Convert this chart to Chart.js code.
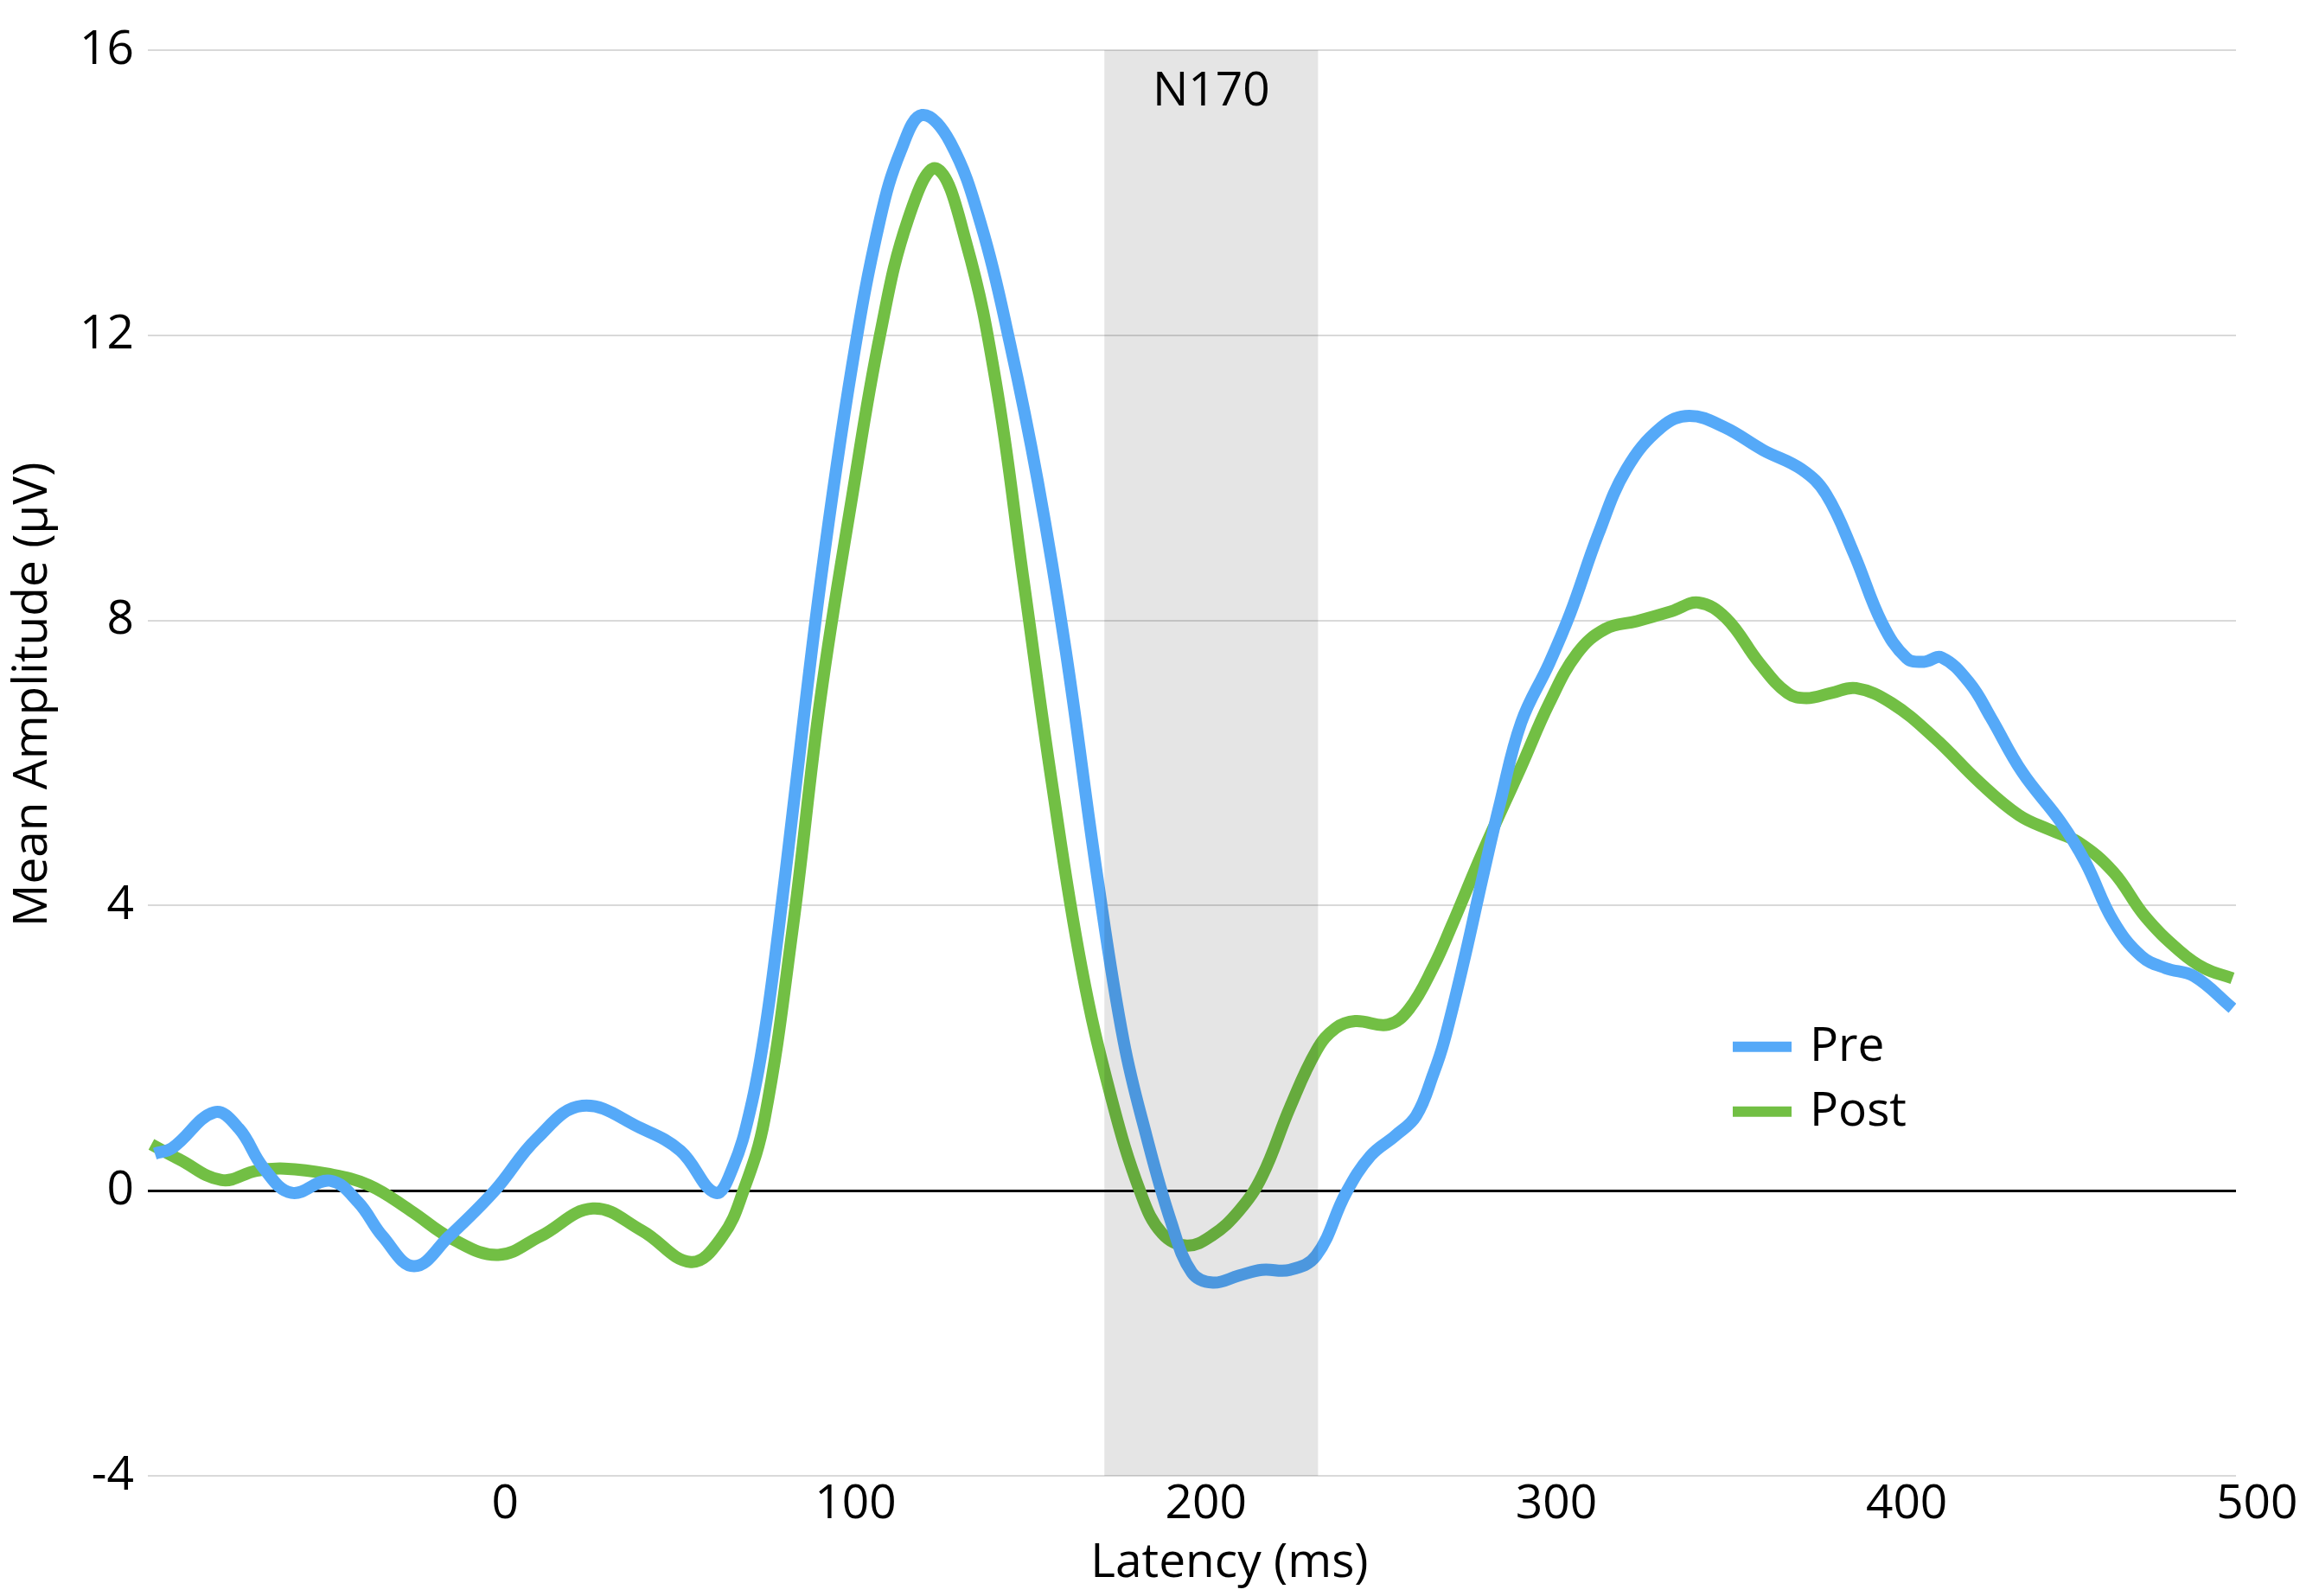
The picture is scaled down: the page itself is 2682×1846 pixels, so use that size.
<!DOCTYPE html>
<html>
<head>
<meta charset="utf-8">
<script src="https://cdn.jsdelivr.net/npm/chart.js@4/dist/chart.umd.min.js"></script>
<style>
  html, body { margin: 0; padding: 0; background: #ffffff; }
  #wrap { width: 2682px; height: 1846px; position: relative; }
</style>
</head>
<body>
<div id="wrap"><canvas id="c" width="2682" height="1846"></canvas></div>
<script>
// ---- Data ----
const seriesNames = ["Pre", "Post"];

const preLatency = [-100, -95, -83, -76, -69, -61, -50, -42, -35, -26, -16, -3, 9, 22, 39, 50, 60, 65, 70, 74, 78, 82, 90, 99, 107, 113, 119, 127, 136, 144, 152, 160, 169, 176.5, 183, 190, 196, 202, 209.5, 216, 224, 231.5, 240, 247, 254, 260, 265, 268, 274, 279, 284, 290, 298, 304, 312, 320, 330, 338, 348, 359, 370, 377, 385, 393, 400, 405, 410, 418, 424, 433, 444, 451, 459, 467, 474, 482, 493];
const preValues  = [0.52, 0.60, 1.10, 0.87, 0.32, -0.03, 0.14, -0.16, -0.64, -1.06, -0.64, 0.00, 0.73, 1.19, 0.87, 0.56, -0.03, 0.33, 1.15, 2.20, 3.65, 5.29, 8.54, 11.57, 13.63, 14.60, 15.09, 14.71, 13.52, 11.90, 9.95, 7.57, 4.40, 2.10, 0.77, -0.43, -1.15, -1.29, -1.19, -1.11, -1.11, -0.91, -0.03, 0.49, 0.77, 1.05, 1.65, 2.10, 3.30, 4.40, 5.45, 6.57, 7.40, 8.10, 9.21, 10.12, 10.71, 10.87, 10.71, 10.39, 10.12, 9.77, 8.93, 7.96, 7.47, 7.42, 7.48, 7.12, 6.64, 5.87, 5.17, 4.61, 3.78, 3.29, 3.12, 3.01, 2.56];

const postLatency = [-101, -93, -81, -71, -63, -51, -39, -27, -15, -2, 10, 25, 39, 53, 62, 68, 74, 82, 90, 99, 107, 115, 123, 131.5, 140, 148, 156, 164.5, 173, 181.5, 187.5, 194.5, 201.7, 209.5, 216, 224, 231.6, 237, 242.6, 252, 258, 265, 270, 279, 290, 298, 306, 314, 323, 333, 340.6, 348.5, 358, 366, 371.4, 378.4, 385.5, 395.7, 408, 421, 432, 441, 449, 459, 468, 478, 485, 493];
const postValues  = [0.65, 0.44, 0.15, 0.28, 0.31, 0.24, 0.08, -0.28, -0.68, -0.90, -0.64, -0.25, -0.56, -1.00, -0.64, 0.00, 1.00, 3.66, 6.91, 9.73, 12.01, 13.63, 14.34, 13.31, 11.35, 8.54, 5.73, 3.13, 1.30, -0.05, -0.60, -0.77, -0.63, -0.28, 0.20, 1.17, 1.97, 2.28, 2.38, 2.33, 2.55, 3.15, 3.70, 4.75, 5.95, 6.84, 7.54, 7.88, 7.99, 8.13, 8.25, 8.03, 7.40, 6.98, 6.91, 6.98, 7.05, 6.84, 6.35, 5.72, 5.27, 5.06, 4.89, 4.47, 3.85, 3.36, 3.12, 2.98];

const xTickValues = [0, 100, 200, 300, 400, 500];
const yTickValues = [-4, 0, 4, 8, 12, 16];
const xRange = [-102, 494];
const yRange = [-4, 16];

const bandRange = [171, 232];
const bandLabel = "N170";
const xTitle = "Latency (ms)";
const yTitle = "Mean Amplitude (\u03bcV)";

// ---- Styles ----
const colors = ["#55a9f8", "#72bf44"];
const FONT = "'Open Sans', Lato, sans-serif";
const FS = 55;

function toPoints(xs, ys) { return xs.map((x, i) => ({ x: x, y: ys[i] })); }

const bandPlugin = {
  id: 'band',
  afterDatasetsDraw(chart) {
    const { ctx, chartArea, scales } = chart;
    const x0 = scales.x.getPixelForValue(bandRange[0]);
    const x1 = scales.x.getPixelForValue(bandRange[1]);
    ctx.save();
    ctx.fillStyle = 'rgba(0,0,0,0.102)';
    ctx.fillRect(x0, chartArea.top, x1 - x0, chartArea.bottom - chartArea.top);
    ctx.fillStyle = '#000';
    ctx.font = FS + 'px ' + FONT;
    ctx.textAlign = 'center';
    ctx.textBaseline = 'middle';
    ctx.fillText(bandLabel, (x0 + x1) / 2, chartArea.top + 48);
    ctx.restore();
  }
};

const annotPlugin = {
  id: 'annot',
  afterDraw(chart) {
    const { ctx, chartArea } = chart;
    const W = chartArea.right - chartArea.left, H = chartArea.bottom - chartArea.top;
    ctx.save();
    ctx.fillStyle = '#000';
    ctx.font = FS + 'px ' + FONT;
    ctx.textAlign = 'center';
    ctx.textBaseline = 'middle';
    // x title
    ctx.fillText(xTitle, chartArea.left + W * 0.518, chartArea.bottom + 101);
    // y title
    ctx.save();
    ctx.translate(38, chartArea.top + H * 0.452);
    ctx.rotate(-Math.PI / 2);
    ctx.fillText(yTitle, 0, 0);
    ctx.restore();
    // legend
    const lx = chartArea.left + W * 0.759;
    const ly = chartArea.top + H * 0.699;
    const gap = 75;
    chart.data.datasets.forEach((ds, i) => {
      const y = ly + i * gap;
      ctx.strokeStyle = ds.borderColor;
      ctx.lineWidth = 12;
      ctx.beginPath();
      ctx.moveTo(lx, y);
      ctx.lineTo(lx + 68, y);
      ctx.stroke();
      ctx.textAlign = 'left';
      ctx.fillText(ds.label, lx + 89, y + 1);
    });
    ctx.restore();
  }
};

const ctxEl = document.getElementById('c');
new Chart(ctxEl, {
  type: 'line',
  data: {
    datasets: [
      { label: seriesNames[0], data: toPoints(preLatency, preValues), borderColor: colors[0], backgroundColor: colors[0], borderWidth: 14, pointRadius: 0, tension: 0.4, fill: false },
      { label: seriesNames[1], data: toPoints(postLatency, postValues), borderColor: colors[1], backgroundColor: colors[1], borderWidth: 14, pointRadius: 0, tension: 0.4, fill: false }
    ]
  },
  options: {
    responsive: false,
    animation: false,
    devicePixelRatio: 1,
    layout: { padding: { left: 0, top: 58, right: 96, bottom: 0 } },
    plugins: { legend: { display: false }, tooltip: { enabled: false } },
    scales: {
      x: {
        type: 'linear',
        min: xRange[0], max: xRange[1],
        grid: { display: false, drawTicks: false },
        border: { display: false },
        afterBuildTicks(scale) { scale.ticks = xTickValues.map(v => ({ value: v })); },
        afterFit(scale) { scale.height = 139; },
        ticks: { color: '#000', font: { family: FONT, size: FS }, padding: 0, autoSkip: false, maxRotation: 0, callback: v => String(v) }
      },
      y: {
        type: 'linear',
        min: yRange[0], max: yRange[1],
        afterBuildTicks(scale) { scale.ticks = yTickValues.map(v => ({ value: v })); },
        afterFit(scale) { scale.width = 171; },
        grid: {
          drawTicks: false,
          color: c => (c.tick && c.tick.value === 0) ? '#000000' : '#d9d9d9',
          lineWidth: c => (c.tick && c.tick.value === 0) ? 3 : 2
        },
        border: { display: false },
        ticks: { color: '#000', font: { family: FONT, size: FS }, padding: 16, callback: v => String(v) }
      }
    }
  },
  plugins: [bandPlugin, annotPlugin]
});
</script>
</body>
</html>
